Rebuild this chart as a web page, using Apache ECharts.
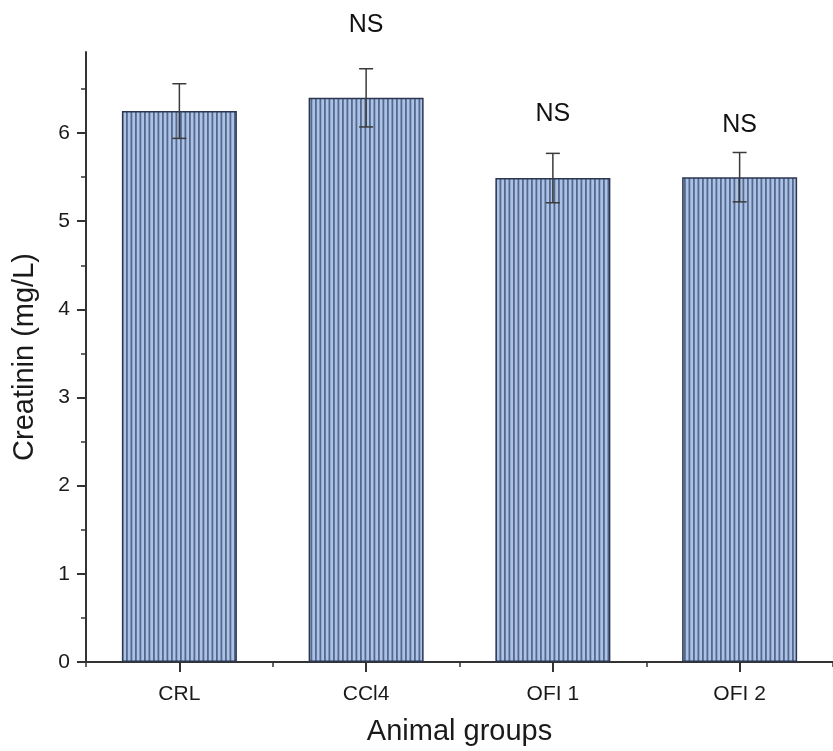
<!DOCTYPE html>
<html>
<head>
<meta charset="utf-8">
<script src="https://cdn.jsdelivr.net/npm/echarts@6/dist/echarts.min.js"></script>
<style>html,body{margin:0;padding:0;background:#fff;}#c{width:833px;height:751px;}</style>
</head>
<body>
<div id="c"></div>
<script>
var categories = ['CRL', 'CCl4', 'OFI 1', 'OFI 2'];
var means = [6.25, 6.40, 5.49, 5.50];
var errors = [0.31, 0.33, 0.28, 0.28];
var nsLabels = ['', 'NS', 'NS', 'NS'];
var nsY = [null, 7.22, 6.21, 6.09];
var yTicks = [0, 1, 2, 3, 4, 5, 6];
var yMinorTicks = [0.5, 1.5, 2.5, 3.5, 4.5, 5.5, 6.5];

var FONT = '"Liberation Sans", Arial, sans-serif';

// striped pattern
var pc = document.createElement('canvas');
pc.width = 9; pc.height = 4;
var pctx = pc.getContext('2d');
pctx.fillStyle = '#adc3e6';
pctx.fillRect(0, 0, 9, 4);
pctx.fillStyle = '#55698f';
pctx.fillRect(0, 0, 1.8, 4);
pctx.fillRect(4.5, 0, 1.8, 4);

var chart = echarts.init(document.getElementById('c'), null, {renderer: 'canvas'});

var errData = categories.map(function (c, i) { return [i, means[i] - errors[i], means[i] + errors[i]]; });
var nsData = categories.map(function (c, i) { return nsY[i] == null ? null : [i, nsY[i], nsLabels[i]]; }).filter(function (d) { return d; });

var option = {
  animation: false,
  backgroundColor: '#fff',
  grid: {left: 86, right: -5, top: 52, bottom: 88, containLabel: false},
  xAxis: [{
    type: 'category',
    data: categories,
    name: 'Animal groups',
    nameLocation: 'middle',
    nameGap: 55,
    nameTextStyle: {fontFamily: FONT, fontSize: 29, color: '#1a1a1a'},
    axisLine: {lineStyle: {color: '#333', width: 2}},
    axisTick: {show: true, alignWithLabel: true, length: 10, lineStyle: {color: '#333', width: 2}},
    axisLabel: {fontFamily: FONT, fontSize: 21, color: '#1a1a1a', margin: 22}
  }, {
    type: 'category',
    data: categories,
    position: 'bottom',
    axisLine: {show: false},
    axisTick: {show: true, alignWithLabel: false, length: 5, lineStyle: {color: '#333', width: 1.5}},
    axisLabel: {show: false}
  }],
  yAxis: [{
    type: 'value',
    min: 0,
    max: 6.92,
    name: 'Creatinin (mg/L)',
    nameLocation: 'middle',
    nameGap: 47,
    nameTextStyle: {fontFamily: FONT, fontSize: 29, color: '#1a1a1a'},
    splitLine: {show: false},
    axisLine: {show: true, lineStyle: {color: '#333', width: 2}},
    axisTick: {show: true, length: 9, customValues: yTicks, lineStyle: {color: '#333', width: 2}},
    axisLabel: {fontFamily: FONT, fontSize: 21, color: '#1a1a1a', margin: 16, customValues: yTicks}
  }, {
    type: 'value',
    min: 0,
    max: 6.92,
    position: 'left',
    splitLine: {show: false},
    axisLine: {show: false},
    axisTick: {show: true, length: 5, customValues: yMinorTicks, lineStyle: {color: '#333', width: 1.5}},
    axisLabel: {show: false}
  }],
  series: [{
    type: 'bar',
    data: means,
    barWidth: 115,
    itemStyle: {
      color: {image: pc, repeat: 'repeat'},
      borderColor: '#2b3650',
      borderWidth: 1.5
    },
    z: 2
  }, {
    type: 'custom',
    data: errData,
    z: 5,
    renderItem: function (params, api) {
      var i = api.value(0);
      var lo = api.coord([i, api.value(1)]);
      var hi = api.coord([i, api.value(2)]);
      var half = 7;
      var st = {stroke: '#3a3a3a', lineWidth: 1.5};
      return {
        type: 'group',
        children: [
          {type: 'line', shape: {x1: hi[0], y1: hi[1], x2: lo[0], y2: lo[1]}, style: st},
          {type: 'line', shape: {x1: hi[0] - half, y1: hi[1], x2: hi[0] + half, y2: hi[1]}, style: st},
          {type: 'line', shape: {x1: lo[0] - half, y1: lo[1], x2: lo[0] + half, y2: lo[1]}, style: st}
        ]
      };
    }
  }, {
    type: 'scatter',
    data: nsData,
    symbolSize: 0,
    clip: false,
    silent: true,
    z: 6,
    itemStyle: {opacity: 1},
    label: {
      show: true,
      position: 'inside',
      formatter: function (p) { return p.data[2]; },
      fontFamily: FONT,
      fontSize: 25,
      color: '#111',
      opacity: 1
    }
  }]
};
chart.setOption(option);
</script>
</body>
</html>
